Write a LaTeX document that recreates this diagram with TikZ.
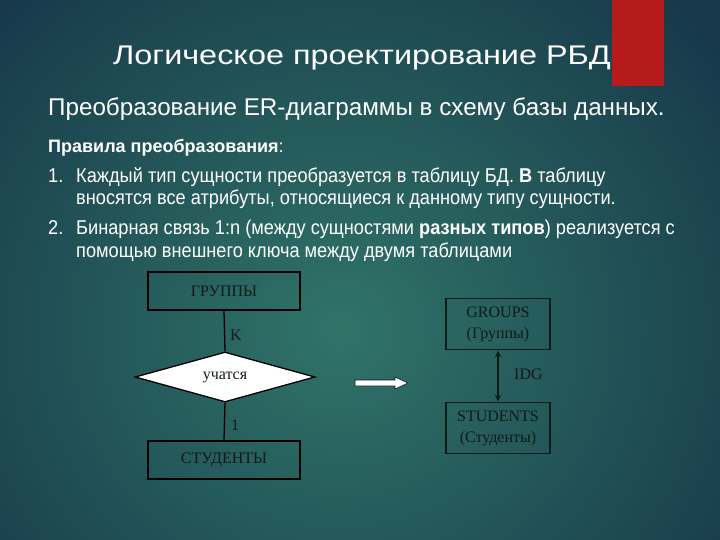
\documentclass[tikz,border=0pt]{standalone}
\usepackage{fontspec}
\setmainfont{Liberation Sans}
\newfontfamily\narrowfont[FakeStretch=0.91]{Liberation Sans}
\newfontfamily\widefont[FakeStretch=1.2]{Liberation Sans}
\newfontfamily\seriffont{Liberation Serif}
\usetikzlibrary{shapes.geometric,arrows.meta}
\definecolor{bgin}{HTML}{307468}
\definecolor{bgout}{HTML}{17394A}
\definecolor{redbar}{HTML}{B51B1B}
\definecolor{ink}{HTML}{0F1A19}
\begin{document}
\begin{tikzpicture}[x=1pt,y=-1pt,
  txt/.style={anchor=base west,inner sep=0,text=white},
  entbox/.style={draw=black,line width=1.3pt,minimum width=152pt,minimum height=38pt,inner sep=0,font=\seriffont\fontsize{16}{18}\selectfont,text=ink},
  tabbox/.style={draw=ink,line width=1.8pt,minimum width=104pt,minimum height=51pt,inner sep=0,align=center,font=\seriffont\fontsize{16}{21}\selectfont,text=ink},
  lbl/.style={inner sep=0,font=\seriffont\fontsize{16}{18}\selectfont,text=ink},
  conn/.style={draw=black,line width=1.3pt}]
\useasboundingbox (0,0) rectangle (720,540);
\begin{scope}
\clip (0,0) rectangle (720,540);
\shade[inner color=bgin,outer color=bgout] (-140,-130) rectangle (820,790);
\end{scope}
\fill[redbar] (612,0) rectangle (664,86);
% texts
\node[anchor=base,inner sep=0,text=white,font=\widefont\fontsize{27}{30}\selectfont] (title) at (362,65) {Логическое проектирование РБД};
\node[txt,font=\fontsize{24.2}{28}\selectfont] (sub) at (48,116) {Преобразование ER-диаграммы в схему базы данных.};
\node[txt,font=\fontsize{18}{20}\selectfont] (rules) at (48,153) {\textbf{Правила преобразования}:};
\node[txt,font=\narrowfont\fontsize{20}{22}\selectfont] (i1) at (48,183) {1.};
\node[txt,font=\narrowfont\fontsize{20}{22}\selectfont] (l1a) at (76,183) {Каждый тип сущности преобразуется в таблицу БД. \textbf{В} таблицу};
\node[txt,font=\narrowfont\fontsize{20}{22}\selectfont] (l1b) at (76,205) {вносятся все атрибуты, относящиеся к данному типу сущности.};
\node[txt,font=\narrowfont\fontsize{20}{22}\selectfont] (i2) at (48,235) {2.};
\node[txt,font=\narrowfont\fontsize{20}{22}\selectfont] (l2a) at (76,235) {Бинарная связь 1:n (между сущностями \textbf{разных типов}) реализуется с};
\node[txt,font=\narrowfont\fontsize{20}{22}\selectfont] (l2b) at (76,257) {помощью внешнего ключа между двумя таблицами};
% ER diagram
\node[entbox] (gr) at (224,291) {ГРУППЫ};
\node[diamond,draw=black,line width=1.3pt,fill=white,minimum width=180pt,minimum height=50pt,aspect=3.6,inner sep=0,font=\seriffont\fontsize{16}{18}\selectfont,text=ink] (rel) at (225,377) {учатся};
\node[entbox] (st) at (224,460) {СТУДЕНТЫ};
\draw[conn] (gr.south) -- (rel.north);
\draw[conn] (rel.south) -- (st.north);
\node[lbl,anchor=west] (k) at (230,335) {K};
\node[lbl,anchor=west] (one) at (231,425) {1};
% arrow
\draw[fill=white,draw=ink,line width=0.6pt] (355,380) -- (395,380) -- (395,377) -- (408,383) -- (395,389) -- (395,386) -- (355,386) -- cycle;
% relational schema
\node[tabbox] (g2) at (498,324) {GROUPS\\(Группы)};
\node[tabbox] (s2) at (498,428) {STUDENTS\\(Студенты)};
\draw[draw=ink,line width=1.3pt,{Stealth[length=7pt,width=6pt]}-{Stealth[length=7pt,width=6pt]}] (g2.south) -- (s2.north);
\node[lbl,anchor=west] (idg) at (514,374) {IDG};
\end{tikzpicture}
\end{document}
